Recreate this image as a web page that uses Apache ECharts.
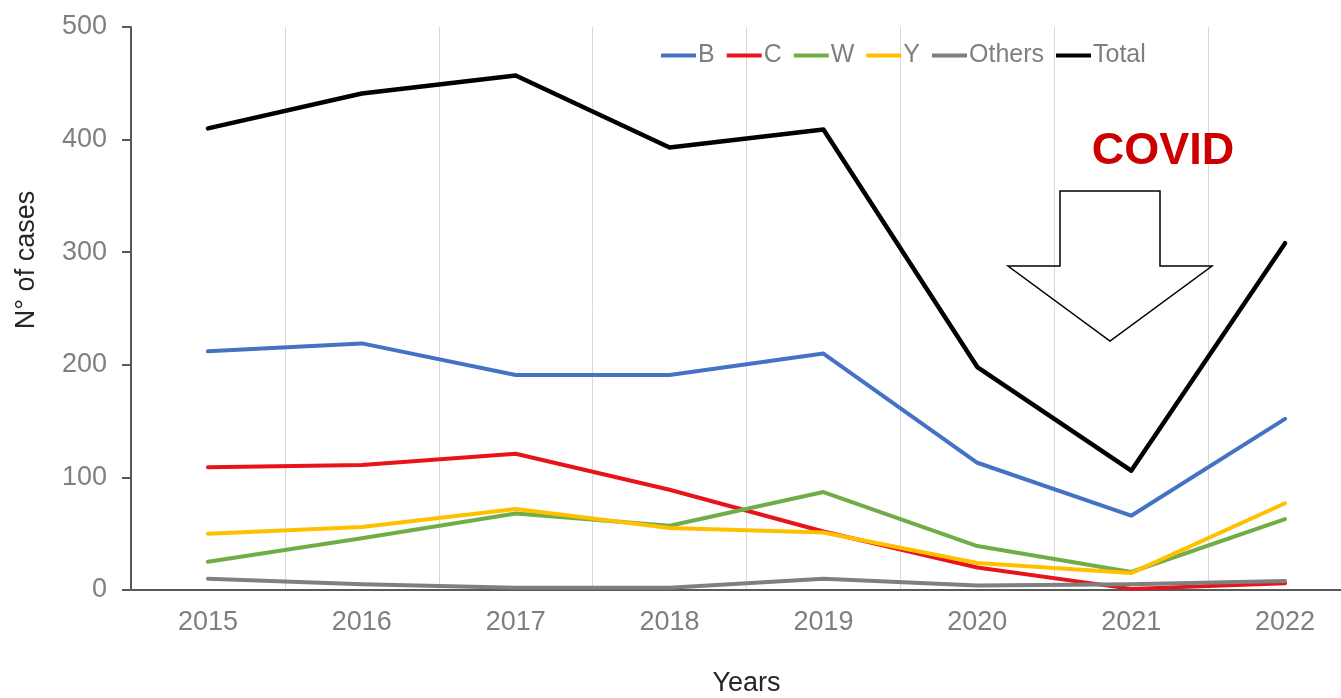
<!DOCTYPE html>
<html>
<head>
<meta charset="utf-8">
<script src="https://cdn.jsdelivr.net/npm/echarts@6/dist/echarts.min.js"></script>
<style>
html,body{margin:0;padding:0;background:#fff;overflow:hidden;}
#chart{width:1341px;height:698px;}
</style>
</head>
<body>
<div id="chart"></div>
<script>
const years = ['2015','2016','2017','2018','2019','2020','2021','2022'];
const seriesNames = ['B','C','W','Y','Others','Total'];
const valuesB = [212, 219, 191, 191, 210, 113, 66, 152];
const valuesC = [109, 111, 121, 89, 52, 20, 1, 6];
const valuesW = [25, 46, 68, 57, 87, 39, 16, 63];
const valuesY = [50, 56, 72, 55, 51, 24, 15, 77];
const valuesOthers = [10, 5, 2, 2, 10, 4, 5, 8];
const valuesTotal = [410, 441, 457, 393, 409, 198, 106, 308];
const yTicks = [0, 100, 200, 300, 400, 500];
const colors = ['#4472C4', '#E8141C', '#70AD47', '#FFC000', '#7F7F7F', '#000000'];

const allValues = [valuesB, valuesC, valuesW, valuesY, valuesOthers, valuesTotal];

const chart = echarts.init(document.getElementById('chart'), null, {renderer: 'canvas', width: 1341, height: 698});
const font = '"Liberation Sans", Arial, sans-serif';

const option = {
  animation: false,
  backgroundColor: '#ffffff',
  grid: {left: 131, right: -21, top: 27, bottom: 108, containLabel: false, outerBoundsMode: 'none'},
  legend: {
    data: seriesNames,
    left: 656,
    top: 38,
    icon: 'rect',
    itemWidth: 35,
    itemHeight: 4,
    itemGap: 12,
    textStyle: {fontFamily: font, fontSize: 25, color: '#7F7F7F', padding: [0, 0, 0, -3]}
  },
  xAxis: {
    type: 'category',
    data: years,
    boundaryGap: true,
    name: 'Years',
    nameLocation: 'middle',
    nameGap: 80,
    nameTextStyle: {fontFamily: font, fontSize: 27, color: '#262626'},
    axisLine: {show: true, lineStyle: {color: '#595959', width: 2}},
    axisTick: {show: false},
    axisLabel: {fontFamily: font, fontSize: 27, color: '#7F7F7F', margin: 19},
    splitLine: {show: true, lineStyle: {color: '#D9D9D9', width: 1}}
  },
  yAxis: {
    type: 'value',
    min: yTicks[0],
    max: yTicks[yTicks.length - 1],
    interval: 100,
    axisLine: {show: true, lineStyle: {color: '#595959', width: 2}},
    axisTick: {show: true, inside: false, length: 9, lineStyle: {color: '#595959', width: 2}},
    axisLabel: {fontFamily: font, fontSize: 27, color: '#7F7F7F', margin: 24},
    splitLine: {show: false}
  },
  series: seriesNames.map((n, i) => ({
    name: n,
    type: 'line',
    data: allValues[i],
    showSymbol: false,
    symbol: 'none',
    color: colors[i],
    lineStyle: {color: colors[i], width: i === 5 ? 4.5 : 4, cap: 'round', join: 'round'},
    z: 2 + i
  })),
  graphic: [
    {
      type: 'text',
      x: 27,
      y: 260,
      rotation: Math.PI / 2,
      style: {
        text: 'N° of cases',
        fontFamily: font,
        fontSize: 27,
        fill: '#262626',
        textAlign: 'center',
        textVerticalAlign: 'middle'
      }
    },
    {
      type: 'text',
      x: 1163,
      y: 152,
      style: {
        text: 'COVID',
        fontFamily: font,
        fontSize: 45,
        fontWeight: 'bold',
        fill: '#CC0000',
        textAlign: 'center',
        textVerticalAlign: 'middle'
      },
      z: 20
    },
    {
      type: 'polygon',
      shape: {
        points: [[1060, 191], [1160, 191], [1160, 266], [1212, 266], [1110, 341], [1008, 266], [1060, 266]]
      },
      style: {fill: 'rgba(255,255,255,0)', stroke: '#000000', lineWidth: 1.5},
      z: 20
    }
  ]
};
chart.setOption(option);
</script>
</body>
</html>
